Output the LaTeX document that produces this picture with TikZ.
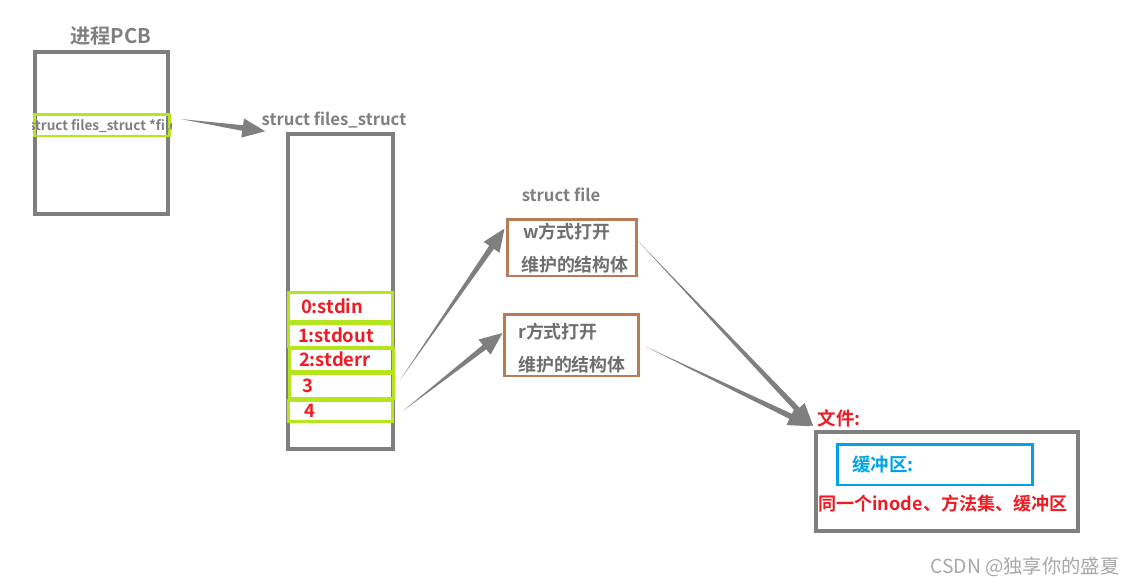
\documentclass[tikz,border=0pt]{standalone}
\usepackage{fontspec}
\setmainfont{Noto Sans CJK SC}[BoldFont={Noto Sans CJK SC Bold}]
\usepackage{xcolor}
\usetikzlibrary{positioning,calc}
\definecolor{boxgray}{HTML}{7F7F7F}
\definecolor{textgray}{HTML}{6E6E6E}
\definecolor{slotgreen}{HTML}{B5E61D}
\definecolor{fdred}{HTML}{ED1C24}
\definecolor{brown}{HTML}{B97A57}
\definecolor{bufblue}{HTML}{00A2E8}
\definecolor{markgray}{HTML}{A8A8A8}

% tapered arrow: thin at the start, wide head at the end
\newcommand{\taperarrow}[2]{%
  \coordinate (tb) at ($(#2)!13pt!(#1)$);
  \fill[boxgray] (#1) -- ($(tb)!1.6pt!90:(#2)$) -- ($(tb)!5.5pt!90:(#2)$) -- (#2)
    -- ($(tb)!5.5pt!-90:(#2)$) -- ($(tb)!1.6pt!-90:(#2)$) -- cycle;}

\begin{document}
\begin{tikzpicture}[x=0.02cm,y=-0.02cm,
    graybox/.style={draw=boxgray,line width=2pt,inner sep=0pt},
    slot/.style={draw=slotgreen,line width=1.7pt,minimum width=2.1cm,text width=1.7cm,inner xsep=0.2cm,inner ysep=0pt,align=left,font=\fontsize{10.5}{12}\selectfont\bfseries,text=fdred},
    filebox/.style={draw=brown,line width=1.7pt,inner sep=0pt},
    caption/.style={font=\fontsize{9.5}{11}\selectfont\bfseries,text=boxgray},
    boxtext/.style={font=\fontsize{10.2}{12}\selectfont\bfseries,text=textgray,anchor=west}
]
\useasboundingbox (0,0) rectangle (1134,586);
% process control block
\node[font=\fontsize{11.5}{14}\selectfont\bfseries,text=boxgray] (pcbtitle) at (111,36) {进程PCB};
\node[graybox,minimum width=2.66cm,minimum height=3.24cm] (pcb) at (101.5,133) {};
\node[draw=slotgreen,line width=1.7pt,minimum width=2.72cm,minimum height=0.44cm,inner sep=0pt] (fileptr) at (102,125) {};
\begin{scope}
\clip (fileptr.south west) rectangle (fileptr.north east);
\node[font=\fontsize{7.7}{9}\selectfont\bfseries,text=boxgray] (fileptrtext) at (103,126) {struct files\_struct *file};
\end{scope}
% files_struct with fd slots
\node[caption] (fstabtitle) at (334,120) {struct files\_struct};
\node[graybox,minimum width=2.1cm,minimum height=6.3cm] (fstab) at (340.5,291.5) {};
\node[slot,minimum height=0.58cm] (fd0) at (340.5,306.5) {\,0:stdin};
\node[slot,minimum height=0.48cm] (fd1) at (340.5,335) {1:stdout};
\node[slot,minimum height=0.46cm] (fd2) at (341.5,359.5) {2:stderr};
\node[slot,minimum height=0.5cm] (fd3) at (341.5,385.5) {\,3};
\node[slot,minimum height=0.42cm] (fd4) at (340.5,410.5) {\,\,4};
% struct file objects
\node[caption] (sfiletitle) at (561,195) {struct file};
\node[filebox,minimum width=2.6cm,minimum height=1.14cm] (wfile) at (572,247.5) {};
\node[boxtext] (wtext1) at (517,232) {w方式打开};
\node[boxtext] (wtext2) at (515,265) {维护的结构体};
\node[filebox,minimum width=2.7cm,minimum height=1.24cm] (rfile) at (571.5,345) {};
\node[boxtext] (rtext1) at (512,332) {r方式打开};
\node[boxtext] (rtext2) at (512,365) {维护的结构体};
% the file itself
\node[font=\fontsize{10.5}{12}\selectfont\bfseries,text=fdred] (inodetitle) at (839,418) {文件:};
\node[graybox,minimum width=5.24cm,minimum height=1.98cm] (inode) at (947,481.5) {};
\node[draw=bufblue,line width=1.7pt,minimum width=3.92cm,minimum height=0.82cm,inner sep=0pt] (buf) at (935,464.5) {};
\node[font=\fontsize{10.5}{12}\selectfont\bfseries,text=bufblue,anchor=west] (buftext) at (846,464.5) {缓冲区:};
\node[font=\fontsize{10.3}{12}\selectfont\bfseries,text=fdred] (shared) at (943,504) {同一个inode、方法集、缓冲区};
\node[font=\fontsize{11}{13}\selectfont,text=markgray] (mark) at (1025,567) {CSDN @独享你的盛夏};
% arrows
\coordinate (a1s) at ($(fileptr.east)+(9,-6)$);
\coordinate (a1e) at ($(fstab.north west)+(-21,-1)$);
\coordinate (a2s) at ($(fd3.east)+(5,-6)$);
\coordinate (a2e) at ($(wfile.west)+(-1,-19)$);
\coordinate (a3s) at ($(fd4.east)+(9,0)$);
\coordinate (a3e) at ($(rfile.west)+(0,-12)$);
\coordinate (a4s) at ($(wfile.east)+(-1,-7)$);
\coordinate (a4e) at ($(inode.north west)+(-1,-4)$);
\coordinate (a5s) at ($(rfile.east)+(6,2)$);
\coordinate (a5e) at ($(inode.north west)+(-3,-4)$);
\taperarrow{a1s}{a1e}
\taperarrow{a2s}{a2e}
\taperarrow{a3s}{a3e}
\taperarrow{a4s}{a4e}
\taperarrow{a5s}{a5e}
\end{tikzpicture}
\end{document}
